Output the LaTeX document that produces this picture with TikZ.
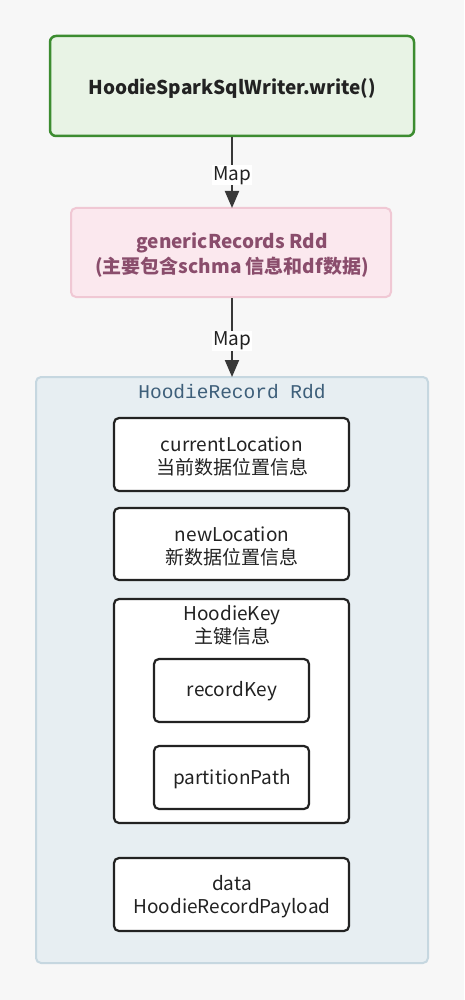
\documentclass[tikz,border=0pt]{standalone}
\usepackage{fontspec}
\setmainfont{Noto Sans CJK SC}
\setmonofont{Liberation Mono}
\usetikzlibrary{arrows.meta}
\definecolor{bgc}{HTML}{F7F7F7}
\definecolor{gfill}{HTML}{E8F3E5}
\definecolor{gdraw}{HTML}{3C8C30}
\definecolor{pfill}{HTML}{FBE8EE}
\definecolor{pdraw}{HTML}{F0C8D4}
\definecolor{ptext}{HTML}{8A4D6C}
\definecolor{cfill}{HTML}{E7EEF2}
\definecolor{cdraw}{HTML}{C6D7E0}
\definecolor{ctext}{HTML}{3E5F7A}
\definecolor{ink}{HTML}{222222}
\tikzset{
  box/.style={draw=ink, line width=2.2pt, rounded corners=5pt, fill=white},
  lbl/.style={font=\fontsize{19}{23}\selectfont, text=ink, align=center},
  flow/.style={draw=ink!90, line width=2pt, -{Triangle[width=14pt,length=17pt]}},
  maplbl/.style={fill=white, inner sep=1pt, font=\fontsize{19}{20}\selectfont, text=ink}
}
\begin{document}
\begin{tikzpicture}[x=1pt,y=-1pt]
\fill[bgc] (0,0) rectangle (464,1000);
\useasboundingbox (0,0) rectangle (464,1000);
% top box
\draw[draw=gdraw, line width=2.5pt, fill=gfill, rounded corners=6pt] (50,36) rectangle (414,136);
\node[lbl, font=\fontsize{19}{22}\selectfont\bfseries] (w) at (232,88) {HoodieSparkSqlWriter.write()};
\coordinate (wb) at (232,137);
% pink box
\draw[draw=pdraw, line width=2pt, fill=pfill, rounded corners=5pt] (71,208) rectangle (391,297);
\coordinate (gt) at (232,208);
\coordinate (gb) at (232,298);
\node[font=\fontsize{19}{25}\selectfont\bfseries, text=ptext, align=center] (g) at (232,255) {genericRecords Rdd\\(主要包含schma 信息和df数据)};
% container
\draw[draw=cdraw, line width=2pt, fill=cfill, rounded corners=5pt] (36,377) rectangle (428,963);
\coordinate (ct) at (232,377);
\node[font=\fontsize{19.5}{20}\selectfont\ttfamily, text=ctext] (ctitle) at (232,392) {HoodieRecord Rdd};
% arrows
\draw[flow] (wb) -- node[maplbl, pos=0.54] (m1) {Map} (gt);
\draw[flow] (gb) -- node[maplbl, pos=0.54] (m2) {Map} (ct);
% inner boxes
\draw[box] (114,418) rectangle (349,491);
\node[lbl] (cl) at (232,456) {currentLocation\\当前数据位置信息};
\draw[box] (114,508) rectangle (349,580);
\node[lbl] (nl) at (232,546) {newLocation\\新数据位置信息};
\draw[box] (114,599) rectangle (349,823);
\node[lbl] (hk) at (232,625) {HoodieKey\\主键信息};
\draw[box] (154,659) rectangle (309,722);
\node[lbl] (rk) at (232,691) {recordKey};
\draw[box] (154,746) rectangle (309,809);
\node[lbl] (pp) at (232,779) {partitionPath};
\draw[box] (114,858) rectangle (349,931);
\node[lbl] (dt) at (232,897) {data\\HoodieRecordPayload};
\end{tikzpicture}
\end{document}
